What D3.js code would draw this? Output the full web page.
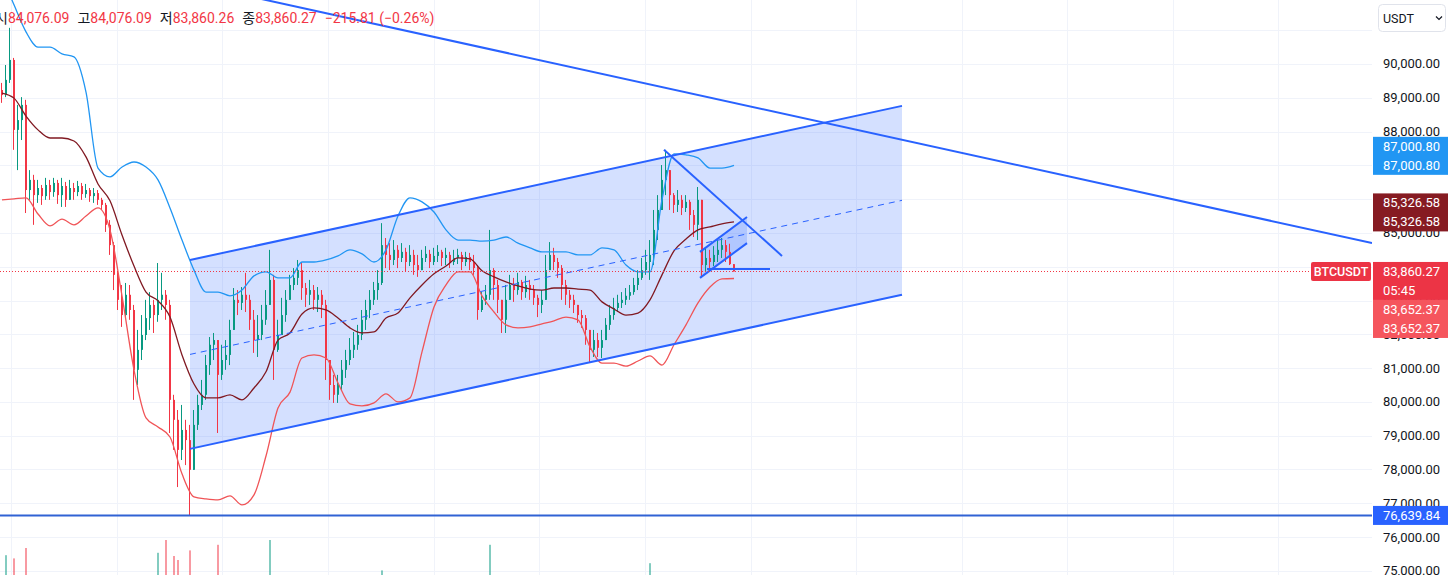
<!DOCTYPE html>
<html>
<head>
<meta charset="utf-8">
<script src="https://cdn.jsdelivr.net/npm/d3@7"></script>
<style>
body { margin: 0; background: #fff; overflow: hidden; }
svg { display: block; font-family: Roboto, 'Noto Sans CJK KR', sans-serif; }
</style>
</head>
<body>
<svg></svg>
<script>
// BTCUSDT bars (open of each bar = previous close)
let firstOpen = 89230;
let closes = [
  89080, 89530, 90120, 88050, 88340, 88790, 86270, 86570, 86120, 86330,
  86090, 86420, 86210, 86480, 86120, 86390, 85980, 86330, 86210, 86390,
  86150, 86270, 86090, 86180, 85980, 85830, 85240, 84640, 83760, 83020,
  82570, 83170, 82720, 80950, 81540, 81980, 82480, 82870, 82570, 83020,
  83170, 82870, 80060, 79470, 78580, 79170, 78870, 77990, 79320, 79910,
  80210, 81090, 81690, 81830, 80800, 81240, 81390, 82130, 83020, 82930,
  83170, 83020, 82430, 81830, 81980, 82430, 82870, 83610, 81540, 81980,
  82570, 83020, 83460, 83670, 83900, 83370, 83170, 83310, 83020, 83170,
  82870, 81240, 80500, 80210, 80500, 80950, 81240, 81540, 81690, 81980,
  82430, 82720, 83020, 83310, 83520, 84640, 84350, 84200, 84500, 84260,
  84440, 84140, 84350, 84050, 83900, 84260, 84380, 84140, 84320, 84440,
  84260, 84350, 84140, 84260, 84350, 84140, 84290, 84140, 83960, 82720,
  83020, 83170, 83900, 83460, 83020, 82430, 83020, 83460, 83310, 83550,
  83250, 83460, 83310, 83080, 82870, 83020, 83900, 84350, 84140, 83960,
  83460, 83170, 83020, 82870, 82570, 82480, 82130, 81540, 81830, 81600,
  81830, 82280, 82570, 82780, 82930, 83020, 83140, 83250, 83460, 83670,
  83900, 84140, 84350, 85090, 85680, 86570, 86860, 86120, 85830, 85980,
  85740, 85920, 85530, 85240, 85980, 84050, 84260, 84140, 84350, 84500,
  84640, 84440, 84076.09, 83860.27
];
let highs = [
  89440, 89970, 91070, 90180, 88790, 89020, 88940, 86860, 86720, 86570,
  86420, 86630, 86570, 86630, 86570, 86630, 86510, 86570, 86480, 86540,
  86480, 86450, 86330, 86330, 86270, 86040, 85890, 85380, 84730, 83850,
  83460, 83520, 83460, 82870, 82130, 82570, 83020, 83250, 83020, 84110,
  83820, 83310, 83020, 80210, 79760, 79910, 79470, 79320, 79760, 80210,
  80650, 81390, 81920, 82040, 81830, 81690, 81830, 82430, 83370, 83310,
  83400, 83820, 83170, 82720, 82570, 82870, 83310, 84500, 83760, 82430,
  83080, 83310, 83760, 83960, 84200, 84140, 83520, 83610, 83460, 83400,
  83310, 83020, 81240, 80800, 80800, 81240, 81540, 81890, 82070, 82280,
  82720, 83020, 83310, 83550, 83900, 85290, 84850, 84700, 84790, 84640,
  84700, 84560, 84640, 84500, 84350, 84500, 84610, 84500, 84560, 84640,
  84500, 84560, 84440, 84500, 84530, 84440, 84440, 84410, 84350, 84050,
  83250, 83460, 85090, 83960, 83610, 83020, 83460, 83760, 83670, 83820,
  83610, 83730, 83610, 83460, 83170, 83310, 84350, 84730, 84560, 84260,
  84050, 83610, 83310, 83170, 82870, 82720, 82570, 82130, 82130, 82040,
  82130, 82480, 82870, 83080, 83170, 83250, 83370, 83460, 83670, 83900,
  84260, 84500, 84790, 85680, 86120, 87010, 87460, 86860, 86180, 86270,
  86120, 86120, 85980, 85680, 86360, 85150, 84560, 84500, 84610, 84790,
  84850, 84790, 84680, 84076.09
];
let lows = [
  88850, 89020, 89440, 87460, 86860, 87750, 85590, 85980, 85240, 85890,
  85830, 85980, 85980, 86070, 85860, 85770, 85770, 86040, 85980, 86090,
  85980, 86040, 85920, 85890, 85830, 85680, 85030, 84350, 83310, 82720,
  82220, 82480, 82430, 80060, 80500, 81240, 81830, 82130, 82040, 82370,
  82720, 82430, 79080, 78580, 77480, 78280, 78130, 76639.84, 78730, 79170,
  79760, 80060, 80800, 81240, 79080, 80650, 80950, 81090, 82480, 82570,
  82720, 82660, 82130, 81450, 81330, 81830, 82280, 83020, 80650, 81480,
  82130, 82370, 83020, 83310, 83460, 83020, 82810, 82870, 82720, 82660,
  82480, 80650, 80060, 79970, 79970, 80350, 80710, 81090, 81300, 81540,
  81830, 82130, 82480, 82870, 83020, 83460, 83960, 83900, 84050, 83960,
  84140, 83850, 84020, 83760, 83700, 83960, 84140, 83960, 84050, 84140,
  84020, 84050, 83960, 84050, 84080, 83900, 84020, 83900, 83760, 82430,
  82660, 82870, 83020, 83020, 82630, 82040, 82040, 83020, 82960, 83170,
  83020, 83080, 83020, 82870, 82510, 82630, 83170, 84050, 83900, 83670,
  83020, 82870, 82780, 82630, 82340, 82190, 81690, 81150, 81330, 81330,
  81300, 81830, 82130, 82430, 82660, 82780, 82870, 83020, 83170, 83310,
  83610, 83760, 83610, 84050, 84790, 85830, 86120, 85680, 85590, 85620,
  85530, 85620, 85090, 84880, 84790, 83700, 83850, 83900, 84020, 84140,
  84260, 84140, 84050, 83860.26
];

// Bollinger bands, one value every 3 bars
let bandStep = 3;
let upperBand = [
  92600, 91750, 90950, 90500, 90500, 90300, 90210, 89170, 86920, 86660,
  86950, 87100, 86950, 86570, 85740, 84790, 83900, 83250, 83250, 83140,
  83310, 83730, 83850, 83670, 83670, 84140, 84140, 84200, 84320, 84500,
  84380, 84140, 84500, 85500, 86040, 85920, 85620, 85090, 84790, 84790,
  84760, 84790, 84880, 84700, 84560, 84440, 84440, 84440, 84350, 84350,
  84560, 84500, 84050, 83850, 83850, 85980, 87340, 87310, 87220, 86920,
  86920, 87000.80
];
let middleBand = [
  89140, 88990, 88460, 88050, 87810, 87810, 87720, 87250, 86450, 85950,
  84940, 84020, 83250, 82990, 82510, 81390, 80530, 80120, 80120, 80210,
  80060, 80410, 80890, 81830, 82040, 82600, 82780, 82720, 82480, 82190,
  82040, 82070, 82480, 82630, 83080, 83460, 83790, 84020, 84260, 84230,
  83880, 83700, 83550, 83430, 83340, 83310, 83370, 83370, 83340, 83310,
  82960, 82750, 82570, 82630, 83020, 83760, 84470, 84820, 85090, 85180,
  85270, 85326.58
];
let lowerBand = [
  85980, 86010, 86040, 85560, 85210, 85410, 85240, 85500, 85740, 85090,
  83140, 80950, 79530, 79260, 78960, 77870, 77190, 77130, 77100, 77220,
  76950, 77250, 78400, 79820, 80290, 81300, 81390, 81300, 80560, 79940,
  79880, 79970, 80240, 80000, 80120, 81480, 82810, 83460, 83850, 83850,
  83140, 82660, 82280, 82190, 82220, 82310, 82400, 82510, 82430, 81630,
  81150, 81150, 81060, 81210, 81360, 81090, 81690, 82280, 82930, 83400,
  83640, 83652.37
];

// volume bars that reach into view: [bar, volume]
let volumeSpikes = [[1, 56], [3, 52], [6, 65], [39, 59], [41, 75], [43, 55], [44, 50],
  [47, 62], [54, 69], [67, 75], [95, 37], [122, 69], [162, 46]];

// drawings: [bar, price]
let channelTop = [[47, 84200], [225, 88760]];
let channelBottom = [[47, 78610], [225, 83170]];
let longTrend = [[60, 92050], [342.5, 84700]];
let triangleLine = [[165.5, 87460], [195, 84320]];
let flagTop = [[174.5, 84440], [186.25, 85470]];
let flagBottom = [[174.5, 83670], [186.25, 84700]];
let flatLine = [[176.25, 83930], [192, 83930]];
let supportLevel = 76639.84;
let lastPrice = 83860.27;
let countdown = '05:45';
let symbol = 'BTCUSDT';
let currency = 'USDT';

let gridPrices = d3.range(75000, 92000, 1000);
let labelPrices = d3.range(75000, 91000, 1000);
let timeTicks = [2.25, 28.75, 55, 81.5, 108, 134.25, 160.75, 187.25, 213.5, 240, 266.25, 292.75, 319];

let legendLabels = ['시', '고', '저', '종'];
let legendValues = ['84,076.09', '84,076.09', '83,860.26', '83,860.27'];
let legendChange = '\u2212215.81 (\u22120.26%)';

let width = 1448;
let height = 575;
let plotRight = 1372;

let upColor = '#089981';
let downColor = '#f23645';
let lineBlue = '#2962ff';

let svg = d3.select('svg').attr('width', width).attr('height', height);
let fmt = d3.format(',.2f');

let xScale = d3.scaleLinear().domain([-0.5, 342.5]).range([0, plotRight]);
let yScale = d3.scaleLinear().domain([74877, 91894]).range([height, 0]);

let bars = closes.map((c, i) => {
    let o = i === 0 ? firstOpen : closes[i - 1];
    return { i: i, o: o, c: c, h: Math.max(highs[i], o, c), l: Math.min(lows[i], o, c) };
});

svg.append('defs').append('clipPath').attr('id', 'plot')
    .append('rect').attr('x', 0).attr('y', 0).attr('width', plotRight).attr('height', height);

let plot = svg.append('g').attr('clip-path', 'url(#plot)');

let drawGrid = () => {
    plot.selectAll('.hgrid').data(gridPrices).enter().append('line')
        .attr('x1', 0).attr('x2', plotRight)
        .attr('y1', d => Math.round(yScale(d)) + 0.5).attr('y2', d => Math.round(yScale(d)) + 0.5)
        .attr('stroke', '#f0f3fa');
    plot.selectAll('.vgrid').data(timeTicks).enter().append('line')
        .attr('x1', d => Math.round(xScale(d)) + 0.5).attr('x2', d => Math.round(xScale(d)) + 0.5)
        .attr('y1', 0).attr('y2', height)
        .attr('stroke', '#f0f3fa');
}

let pt = (d) => [xScale(d[0]), yScale(d[1])];

let drawFills = () => {
    plot.append('polygon')
        .attr('points', [channelTop[0], channelTop[1], channelBottom[1], channelBottom[0]].map(pt).join(' '))
        .attr('fill', 'rgba(41,98,255,0.2)');
    plot.append('polygon')
        .attr('points', [flagTop[0], flagTop[1], flagBottom[1], flagBottom[0]].map(pt).join(' '))
        .attr('fill', 'rgba(41,98,255,0.2)');
}

let drawVolume = () => {
    let vScale = d3.scaleLinear().domain([0, 100]).range([600, 520]);
    plot.selectAll('.vol').data(volumeSpikes).enter().append('rect')
        .attr('x', d => Math.round(xScale(d[0])) - 1)
        .attr('width', 2)
        .attr('y', d => vScale(d[1]))
        .attr('height', d => 600 - vScale(d[1]))
        .attr('fill', d => bars[d[0]].c >= bars[d[0]].o ? 'rgba(8,153,129,0.5)' : 'rgba(242,54,69,0.5)');
}

let drawCandles = () => {
    let g = plot.selectAll('.bar').data(bars).enter().append('g');
    g.append('rect')
        .attr('x', d => Math.round(xScale(d.i)) - 1)
        .attr('width', 1)
        .attr('y', d => yScale(d.h))
        .attr('height', d => Math.max(1, yScale(d.l) - yScale(d.h)))
        .attr('fill', d => d.c >= d.o ? upColor : downColor);
    g.append('rect')
        .attr('x', d => Math.round(xScale(d.i)) - 1)
        .attr('width', 2)
        .attr('y', d => yScale(Math.max(d.o, d.c)))
        .attr('height', d => Math.max(1, Math.abs(yScale(d.o) - yScale(d.c))))
        .attr('fill', d => d.c >= d.o ? upColor : downColor);
}

let drawBands = () => {
    let line = d3.line()
        .x((d, k) => xScale(k * bandStep))
        .y(d => yScale(d))
        .curve(d3.curveMonotoneX);
    [[upperBand, '#2196f3'], [middleBand, '#801922'], [lowerBand, '#f05457']].forEach(b => {
        plot.append('path').attr('d', line(b[0]))
            .attr('fill', 'none').attr('stroke', b[1]).attr('stroke-width', 1.3);
    });
}

let drawLines = () => {
    let segs = [channelTop, channelBottom, longTrend, triangleLine, flagTop, flagBottom, flatLine];
    plot.selectAll('.seg').data(segs).enter().append('line')
        .attr('x1', d => xScale(d[0][0])).attr('y1', d => yScale(d[0][1]))
        .attr('x2', d => xScale(d[1][0])).attr('y2', d => yScale(d[1][1]))
        .attr('stroke', lineBlue).attr('stroke-width', 2);

    // channel median
    plot.append('line')
        .attr('x1', xScale(channelTop[0][0])).attr('y1', yScale((channelTop[0][1] + channelBottom[0][1]) / 2))
        .attr('x2', xScale(channelTop[1][0])).attr('y2', yScale((channelTop[1][1] + channelBottom[1][1]) / 2))
        .attr('stroke', lineBlue).attr('stroke-width', 1).attr('stroke-dasharray', '6,5');

    plot.append('line')
        .attr('x1', 0).attr('x2', plotRight)
        .attr('y1', yScale(supportLevel)).attr('y2', yScale(supportLevel))
        .attr('stroke', '#3062d4').attr('stroke-width', 2);

    plot.append('line')
        .attr('x1', 0).attr('x2', 1311)
        .attr('y1', Math.round(yScale(lastPrice)) + 0.5).attr('y2', Math.round(yScale(lastPrice)) + 0.5)
        .attr('stroke', downColor).attr('stroke-width', 1).attr('stroke-dasharray', '1,2');
}

let drawAxis = () => {
    svg.selectAll('.tick').data(labelPrices).enter().append('text')
        .attr('x', 1383).attr('y', d => yScale(d))
        .attr('dominant-baseline', 'central')
        .attr('font-size', 13).attr('fill', '#131722')
        .text(d => fmt(d));

    let badge = (y0, rows, color) => {
        svg.append('rect').attr('x', 1373).attr('y', y0).attr('width', 75).attr('height', rows.length * 19)
            .attr('fill', color);
        rows.forEach((r, k) => {
            svg.append('text').attr('x', 1383).attr('y', y0 + 9.5 + k * 19)
                .attr('dominant-baseline', 'central').attr('font-size', 13).attr('fill', '#fff')
                .text(r);
        });
    }
    let uy = yScale(upperBand[upperBand.length - 1]);
    badge(uy - 28.5, [fmt(upperBand[upperBand.length - 1]), fmt(upperBand[upperBand.length - 1])], '#2196f3');
    let my = yScale(middleBand[middleBand.length - 1]);
    badge(my - 28.5, [fmt(middleBand[middleBand.length - 1]), fmt(middleBand[middleBand.length - 1])], '#861b22');
    let py = yScale(lastPrice) - 9.5;
    badge(py, [fmt(lastPrice), countdown], '#ec3445');
    badge(py + 38, [fmt(lowerBand[lowerBand.length - 1]), fmt(lowerBand[lowerBand.length - 1])], '#f5555d');
    badge(yScale(supportLevel) - 9.5, [fmt(supportLevel)], lineBlue);

    svg.append('rect').attr('x', 1311).attr('y', py).attr('width', 60).attr('height', 19)
        .attr('rx', 2).attr('fill', '#ec3445');
    svg.append('text').attr('x', 1341).attr('y', py + 9.5)
        .attr('text-anchor', 'middle').attr('dominant-baseline', 'central')
        .attr('font-size', 12.5).attr('font-weight', 500).attr('fill', '#fff')
        .text(symbol);

    // currency selector
    svg.append('rect').attr('x', 1378.5).attr('y', 4.5).attr('width', 67).attr('height', 27)
        .attr('rx', 4).attr('fill', '#fff').attr('stroke', '#e0e3eb');
    svg.append('text').attr('x', 1383).attr('y', 18)
        .attr('dominant-baseline', 'central').attr('font-size', 12.5).attr('fill', '#131722')
        .text(currency);
    svg.append('path').attr('d', 'M1436,16.5 l3,3 l3,-3')
        .attr('fill', 'none').attr('stroke', '#131722').attr('stroke-width', 1.2);
}

let drawLegend = () => {
    let t = svg.append('text').attr('x', -5).attr('y', 18)
        .attr('dominant-baseline', 'central').attr('font-size', 14);
    legendLabels.forEach((lab, k) => {
        t.append('tspan').attr('dx', k === 0 ? 0 : 8).attr('fill', '#131722').text(lab);
        t.append('tspan').attr('fill', downColor).text(legendValues[k]);
    });
    t.append('tspan').attr('dx', 8).attr('fill', downColor).text(legendChange);
}

drawGrid()
drawFills()
drawVolume()
drawCandles()
drawBands()
drawLines()
drawAxis()
drawLegend()
</script>
</body>
</html>
